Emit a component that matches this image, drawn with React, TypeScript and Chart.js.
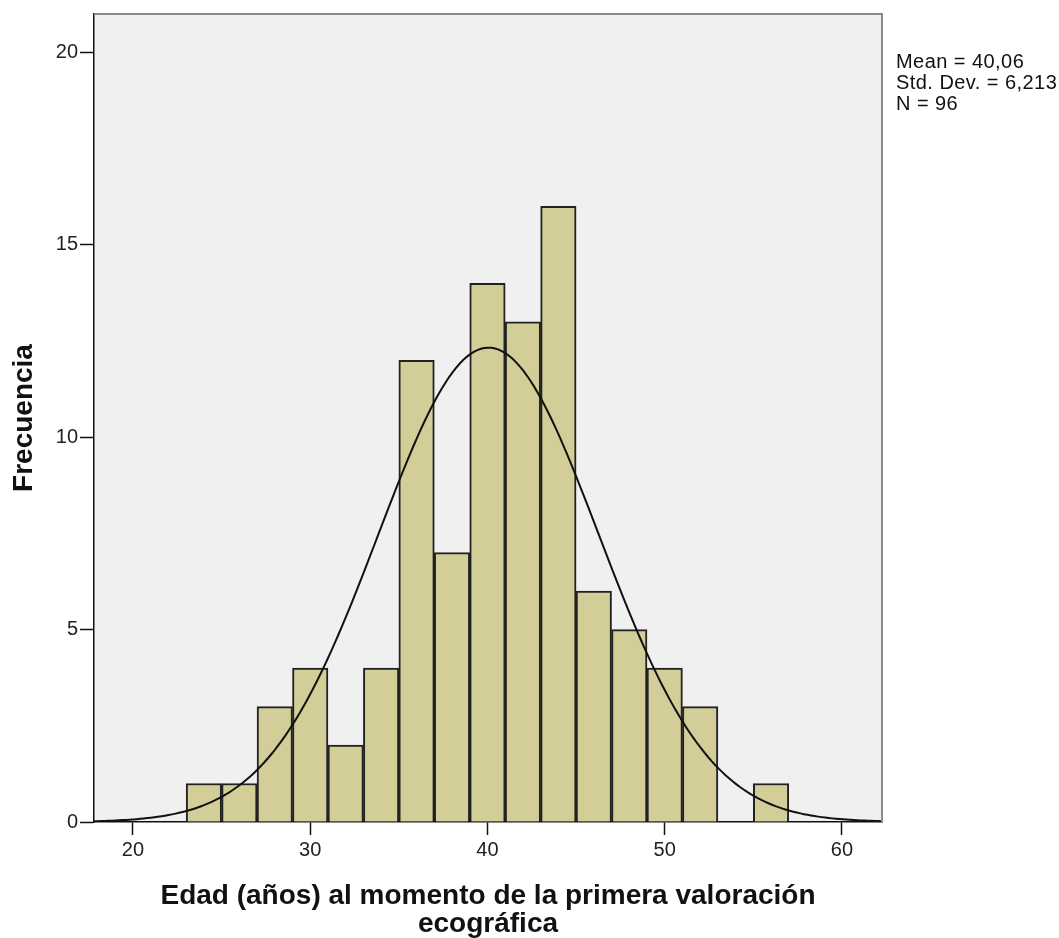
import React, { useEffect, useRef } from "react";
import { Chart, registerables } from "chart.js";

Chart.register(...registerables);

// Histogram bins (bin centre, width 2 years) and frequencies
const binCenters = [24, 26, 28, 30, 32, 34, 36, 38, 40, 42, 44, 46, 48, 50, 52, 54, 56];
const frequencies = [1, 1, 3, 4, 2, 4, 12, 7, 14, 13, 16, 6, 5, 4, 3, 0, 1];
const binWidth = 2;

// Summary statistics shown in the legend / used by the fitted normal curve
const meanValue = 40.06;
const stdDev = 6.213;
const nValue = 96;

const xTicks = [20, 30, 40, 50, 60];
const yTicks = [0, 5, 10, 15, 20];
const xMin = 17.8;
const xMax = 62.26;
const yMin = 0;
const yMax = 21;

const statsLines = ["Mean = 40,06", "Std. Dev. = 6,213", "N = 96"];
const xTitle = ["Edad (años) al momento de la primera valoración", "ecográfica"];
const yTitle = "Frecuencia";

const curveStep = 0.2;

function normalCurve() {
  const pts: { x: number; y: number }[] = [];
  const k = (nValue * binWidth) / (stdDev * Math.sqrt(2 * Math.PI));
  const steps = Math.round((xMax - xMin) / curveStep);
  for (let i = 0; i <= steps; i++) {
    const x = xMin + i * ((xMax - xMin) / steps);
    const z = (x - meanValue) / stdDev;
    pts.push({ x, y: k * Math.exp(-0.5 * z * z) });
  }
  return pts;
}

const plotBg = {
  id: "plotBg",
  beforeDraw(chart: any) {
    const { ctx, chartArea } = chart;
    ctx.save();
    ctx.fillStyle = "#f0f0f0";
    ctx.fillRect(chartArea.left, chartArea.top, chartArea.right - chartArea.left, chartArea.bottom - chartArea.top);
    ctx.restore();
  },
  afterDraw(chart: any) {
    const { ctx, chartArea } = chart;
    ctx.save();
    ctx.strokeStyle = "#8a8a8a";
    ctx.lineWidth = 2;
    ctx.beginPath();
    ctx.moveTo(chartArea.left, chartArea.top);
    ctx.lineTo(chartArea.right, chartArea.top);
    ctx.lineTo(chartArea.right, chartArea.bottom);
    ctx.stroke();
    ctx.restore();
  },
};

const FONT = "'Liberation Sans', Arial, sans-serif";

export default function App() {
  const canvasRef = useRef<HTMLCanvasElement | null>(null);

  useEffect(() => {
    if (!canvasRef.current) return;
    const barData = binCenters.map((c, i) => ({ x: c, y: frequencies[i] }));
    const chart = new Chart(canvasRef.current, {
      type: "bar",
      data: {
        datasets: [
          {
            type: "line",
            data: normalCurve(),
            borderColor: "#111111",
            borderWidth: 2,
            pointRadius: 0,
            tension: 0,
            fill: false,
            order: 0,
          } as any,
          {
            type: "bar",
            data: barData,
            backgroundColor: "#d3ce97",
            borderColor: "#222222",
            borderWidth: 2,
            barPercentage: 1,
            categoryPercentage: 1,
            order: 1,
          } as any,
        ],
      },
      options: {
        animation: false,
        responsive: false,
        maintainAspectRatio: false,
        layout: { padding: { left: 0, right: 177, top: 12, bottom: 0 } },
        plugins: { legend: { display: false }, tooltip: { enabled: false } },
        scales: {
          x: {
            type: "linear",
            min: xMin,
            max: xMax,
            offset: false,
            afterBuildTicks: (scale: any) => {
              scale.ticks = xTicks.map((v) => ({ value: v }));
            },
            afterFit: (scale: any) => {
              scale.height = 116;
            },
            grid: { offset: false, drawOnChartArea: false, drawTicks: true, tickLength: 13, tickColor: "#111", tickWidth: 1.5 },
            border: { display: true, color: "#111", width: 1.5 },
            ticks: {
              padding: 3,
              color: "#222",
              font: { family: FONT, size: 20 },
              callback: (v: any) => String(v),
            },
            title: {
              display: true,
              text: xTitle,
              color: "#111",
              font: { family: FONT, size: 28, weight: "bold", lineHeight: 1.0 },
              padding: { top: 0, bottom: 0 },
            },
          },
          y: {
            type: "linear",
            min: yMin,
            max: yMax,
            afterBuildTicks: (scale: any) => {
              scale.ticks = yTicks.map((v) => ({ value: v }));
            },
            afterFit: (scale: any) => {
              scale.width = 94;
            },
            grid: { drawOnChartArea: false, drawTicks: true, tickLength: 14, tickColor: "#111", tickWidth: 1.5 },
            border: { display: true, color: "#111", width: 1.5 },
            ticks: {
              padding: 2,
              color: "#222",
              font: { family: FONT, size: 20 },
              callback: (v: any) => String(v),
            },
            title: {
              display: true,
              text: yTitle,
              color: "#111",
              font: { family: FONT, size: 28, weight: "bold", lineHeight: 1.0 },
              padding: { top: 10, bottom: 0 },
            },
          },
        },
      },
      plugins: [plotBg],
    });
    return () => chart.destroy();
  }, []);

  return (
    <div style={{ position: "fixed", left: 0, top: 0, width: 1059, height: 938, background: "#ffffff" }}>
      <canvas ref={canvasRef} width={1059} height={938} style={{ display: "block", width: 1059, height: 938 }} />
      <div
        style={{
          position: "absolute",
          left: 896,
          top: 51,
          fontFamily: FONT,
          fontSize: 20,
          letterSpacing: "0.45px",
          lineHeight: "21px",
          color: "#111",
          whiteSpace: "nowrap",
        }}
      >
        {statsLines.map((s) => (
          <div key={s}>{s}</div>
        ))}
      </div>
    </div>
  );
}
